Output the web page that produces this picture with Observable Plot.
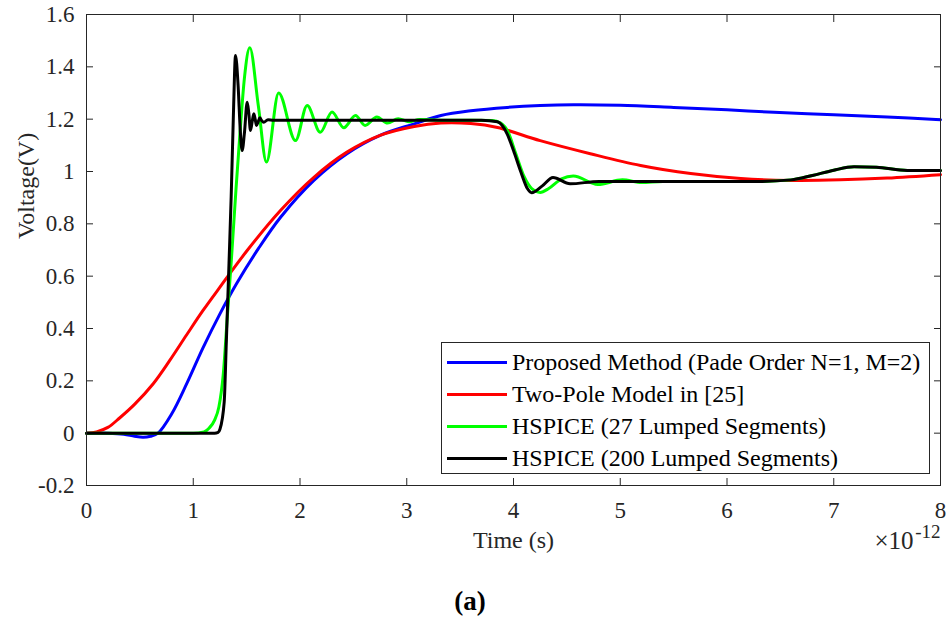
<!DOCTYPE html>
<html>
<head>
<meta charset="utf-8">
<script src="https://cdn.jsdelivr.net/npm/d3@7"></script>
<script src="https://cdn.jsdelivr.net/npm/@observablehq/plot@0.6"></script>
<style>
  html, body { margin: 0; padding: 0; background: #fff; }
  #wrap { position: relative; width: 947px; height: 622px; background: #fff; font-family: "Liberation Serif", "Times New Roman", serif; }
  #legend { position: absolute; left: 441px; top: 342px; width: 487px; height: 130px; border: 1px solid #262626; background: #fff; }
  .row { position: absolute; left: 0; height: 32px; display: flex; align-items: center; white-space: nowrap; font-size: 24px; color: #000; }
  .sw { display: inline-block; width: 60px; height: 3px; margin-left: 5px; margin-right: 5px; }
  #cap { position: absolute; left: 0; top: 586px; width: 940px; text-align: center; font-weight: bold; font-size: 27px; color: #000; }
</style>
</head>
<body>
<div id="wrap"><div id="chart"></div><div id="legend"></div><div id="cap">(a)</div></div>
<script>
// ---------- data (time in units of 1e-12 s, voltage in V) ----------
const seriesNames = [
  "Proposed Method (Pade Order N=1, M=2)",
  "Two-Pole Model in [25]",
  "HSPICE (27 Lumped Segments)",
  "HSPICE (200 Lumped Segments)"
];
const seriesColors = ["#0000ff", "#ff0000", "#00ff00", "#000000"];

const proposedT = [0, 0.2, 0.35, 0.45, 0.53, 0.6, 0.67, 0.8, 0.94, 1.09, 1.25, 1.405, 1.61, 1.82, 2.13, 2.44, 2.75, 3.07, 3.32, 3.6, 3.94, 4.25, 4.56, 5.0, 5.5, 6.0, 6.44, 7.0, 7.5, 8.0];
const proposedV = [0, 0, -0.004, -0.012, -0.016, -0.012, 0, 0.075, 0.19, 0.325, 0.456, 0.571, 0.705, 0.826, 0.966, 1.068, 1.138, 1.182, 1.214, 1.232, 1.245, 1.252, 1.255, 1.253, 1.245, 1.236, 1.226, 1.217, 1.208, 1.198];

const twoPoleT = [0, 0.094, 0.2, 0.31, 0.45, 0.625, 0.78, 0.937, 1.09, 1.25, 1.505, 1.817, 2.13, 2.44, 2.75, 3.07, 3.32, 3.6, 3.85, 4.25, 4.72, 5.19, 5.66, 6.13, 6.6, 7.06, 7.5, 8.0];
const twoPoleV = [0, 0.005, 0.022, 0.058, 0.11, 0.189, 0.278, 0.375, 0.468, 0.558, 0.698, 0.851, 0.978, 1.074, 1.138, 1.172, 1.185, 1.183, 1.168, 1.118, 1.068, 1.023, 0.992, 0.973, 0.966, 0.968, 0.975, 0.988];

const hspice27T = [0, 1.0, 1.1, 1.15, 1.2, 1.24, 1.28, 1.32, 1.36, 1.40, 1.44, 1.48, 1.53, 1.61, 1.686, 1.80, 1.958, 2.067, 2.19, 2.30, 2.41, 2.52, 2.61, 2.72, 2.82, 2.92, 3.02, 3.12, 3.3, 3.6, 3.8, 3.88, 3.95, 4.02, 4.1, 4.17, 4.25, 4.33, 4.45, 4.56, 4.79, 5.02, 5.2, 5.4, 6.0, 6.3, 6.6, 6.8, 7.0, 7.19, 7.4, 7.69, 8.0];
const hspice27V = [0, 0, 0.005, 0.02, 0.05, 0.1, 0.22, 0.45, 0.68, 0.93, 1.16, 1.36, 1.473, 1.25, 1.036, 1.30, 1.118, 1.252, 1.150, 1.227, 1.167, 1.214, 1.176, 1.208, 1.185, 1.202, 1.19, 1.199, 1.196, 1.196, 1.195, 1.185, 1.15, 1.07, 0.98, 0.935, 0.92, 0.935, 0.972, 0.983, 0.95, 0.968, 0.958, 0.962, 0.962, 0.962, 0.968, 0.985, 1.005, 1.018, 1.016, 1.004, 1.004];

const hspice200T = [0, 1.2, 1.233, 1.25, 1.29, 1.31, 1.335, 1.355, 1.375, 1.396, 1.42, 1.44, 1.458, 1.48, 1.505, 1.52, 1.536, 1.552, 1.567, 1.58, 1.592, 1.608, 1.624, 1.64, 1.66, 1.7, 1.75, 2.0, 3.0, 3.7, 3.85, 3.94, 4.0, 4.07, 4.13, 4.17, 4.27, 4.37, 4.53, 4.8, 5.5, 6.3, 6.6, 6.8, 7.0, 7.19, 7.4, 7.69, 8.0];
const hspice200V = [0, 0, 0.003, 0.015, 0.12, 0.35, 0.65, 0.9, 1.2, 1.443, 1.33, 1.16, 1.08, 1.15, 1.265, 1.225, 1.157, 1.19, 1.221, 1.2, 1.176, 1.19, 1.205, 1.195, 1.188, 1.198, 1.196, 1.196, 1.196, 1.196, 1.19, 1.144, 1.08, 0.997, 0.935, 0.919, 0.945, 0.977, 0.953, 0.962, 0.962, 0.962, 0.968, 0.985, 1.005, 1.018, 1.016, 1.004, 1.004];

const xTicks = [0, 1, 2, 3, 4, 5, 6, 7, 8];
const yTicks = [-0.2, 0, 0.2, 0.4, 0.6, 0.8, 1.0, 1.2, 1.4, 1.6];
const xLabel = "Time (s)";
const yLabel = "Voltage(V)";
const xExpBase = "\u00d710";
const xExp = "-12";

// ---------- build table ----------
const allT = [proposedT, twoPoleT, hspice27T, hspice200T];
const allV = [proposedV, twoPoleV, hspice27V, hspice200V];
const curves = ["catmull-rom", "catmull-rom", "monotone-x", "monotone-x"];
const series = allT.map((ts, s) => ts.map((t, i) => ({t, v: allV[s][i], name: seriesNames[s]})));

const fmtY = d => (Math.abs(d) < 1e-9 ? "0" : String(+d.toFixed(1)));
const axisColor = "#262626";

const chart = Plot.plot({
  width: 947,
  height: 570,
  marginLeft: 86,
  marginRight: 7,
  marginTop: 14,
  marginBottom: 85,
  style: {fontFamily: "'Liberation Serif', 'Times New Roman', serif", fontSize: "23px", color: axisColor, background: "#fff", overflow: "visible"},
  x: {domain: [0, 8]},
  y: {domain: [-0.2, 1.6]},
  marks: [
    // tick labels
    Plot.axisX({anchor: "bottom", ticks: xTicks, tickSize: 0, tickPadding: 16, tickFormat: d => String(d), label: null, fill: "#262626"}),
    Plot.axisY({anchor: "left", ticks: yTicks, tickSize: 0, tickPadding: 12, tickFormat: fmtY, label: null, fill: "#262626"}),
    // inward ticks on all four sides
    Plot.axisX({anchor: "bottom", ticks: xTicks, tickSize: -7, tickFormat: () => "", label: null, stroke: axisColor}),
    Plot.axisX({anchor: "top", ticks: xTicks, tickSize: -7, tickFormat: () => "", label: null, stroke: axisColor}),
    Plot.axisY({anchor: "left", ticks: yTicks, tickSize: -7, tickFormat: () => "", label: null, stroke: axisColor}),
    Plot.axisY({anchor: "right", ticks: yTicks, tickSize: -7, tickFormat: () => "", label: null, stroke: axisColor}),
    // data lines
    ...series.map((d, s) => Plot.line(d, {x: "t", y: "v", stroke: seriesColors[s], strokeWidth: 3, curve: curves[s]})),
    Plot.frame({stroke: axisColor, strokeWidth: 1}),
    // axis titles
    Plot.text([xLabel], {text: d => d, frameAnchor: "bottom", dy: 62, fontSize: 24, fill: "#262626"}),
    Plot.text([yLabel], {text: d => d, frameAnchor: "left", rotate: -90, dx: -60, dy: -11, fontSize: 24, fill: "#262626"}),
    Plot.text([xExpBase], {text: d => d, frameAnchor: "bottom-right", textAnchor: "end", dx: -27, dy: 63, fontSize: 25, fill: "#262626"}),
    Plot.text([xExp], {text: d => d, frameAnchor: "bottom-right", textAnchor: "end", dx: 0, dy: 52, fontSize: 19, fill: "#262626"})
  ]
});
document.getElementById("chart").appendChild(chart);

// ---------- legend ----------
const legend = document.getElementById("legend");
seriesNames.forEach((name, i) => {
  const row = document.createElement("div");
  row.className = "row";
  row.style.top = (3 + i * 32) + "px";
  const sw = document.createElement("span");
  sw.className = "sw";
  sw.style.background = seriesColors[i];
  const tx = document.createElement("span");
  tx.textContent = name;
  row.appendChild(sw);
  row.appendChild(tx);
  legend.appendChild(row);
});
</script>
</body>
</html>
